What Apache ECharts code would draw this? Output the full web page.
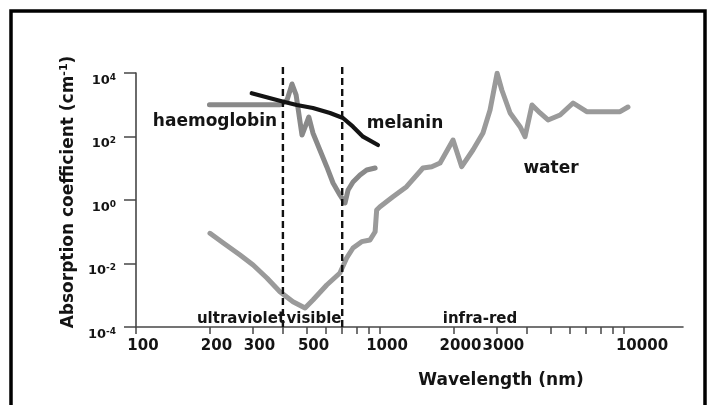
<!DOCTYPE html>
<html><head><meta charset="utf-8">
<script src="https://cdn.jsdelivr.net/npm/echarts@6/dist/echarts.min.js"></script>
<style>html,body{margin:0;padding:0;background:#fff}#c{width:707px;height:405px}</style>
</head><body><div id="c"></div>
<script>
// ---- data (wavelength in nm, absorption coefficient in cm^-1) ----
const xRangeWavelength = [100, 17450];
const yRangeAbsorption = [1e-4, 1e4];
const xTickWavelengths = [100,200,300,400,500,600,700,800,900,1000,2000,3000,4000,5000,6000,7000,8000,9000,10000];
const xLabelWavelengths = [100,200,300,500,1000,2000,3000,10000];
const yTickExponents = [-4,-2,0,2,4];

const haemoglobinWavelength = [200, 390, 416, 436, 453, 479, 511, 531, 567, 605, 642, 685, 719, 740, 775, 828, 882, 955];
const haemoglobinAbsorption = [1000, 1000, 1410, 4500, 2030, 111, 411, 129, 37.6, 11.2, 3.43, 1.44, 0.805, 2.07, 3.69, 6.12, 8.8, 10.2];

const melaninWavelength = [298, 402, 456, 531, 624, 705, 775, 852, 981];
const melaninAbsorption = [2300, 1250, 980, 790, 550, 383, 204, 99, 54];

const waterWavelength = [201,228,267,302,344,389,440,493,531,605,685,730,775,841,910,955,969,1000,1130,1285,1500,1630,1763,1992,2162,2404,2642,2825,3020,3157,3414,3750,3930,4197,4529,4883,5470,6185,7033,8493,9634,10380];
const waterAbsorption = [0.0893,0.0443,0.0185,0.00897,0.00349,0.00129,0.000627,0.000396,0.000708,0.0021,0.00502,0.0149,0.0308,0.0487,0.055,0.1,0.484,0.615,1.27,2.63,10.2,11.2,14.6,77.6,11.2,37.6,129,684,9800,2918,550,204,98.6,982,550,331,475,1135,604,604,604,849];

const boundaryWavelengths = [400, 700];
const boundarySpan = [1e-4, 1.55e4];

// ---- build ----
const L = Math.log10;
const pairs = (xs, ys) => xs.map((x, i) => [L(x), L(ys[i])]);
const FONT = '"DejaVu Sans", sans-serif';
const TXT = '#141414';
const AX = '#474747';

const chart = echarts.init(document.getElementById('c'), null, {renderer: 'canvas'});

const boundarySeries = boundaryWavelengths.map(w => ({
  type: 'line', symbol: 'none', clip: false, silent: true, z: 4,
  data: [[L(w), L(boundarySpan[0])], [L(w), L(boundarySpan[1])]],
  lineStyle: {color: '#111', width: 2.4, type: [7, 4]}
}));

chart.setOption({
  animation: false,
  backgroundColor: '#fff',
  grid: {left: 136, right: 24, top: 73, bottom: 78, containLabel: false},
  xAxis: {
    type: 'value', min: L(xRangeWavelength[0]), max: L(xRangeWavelength[1]),
    splitLine: {show: false},
    axisLine: {onZero: false, lineStyle: {color: AX, width: 1.6}},
    axisTick: {show: true, length: 7, lineStyle: {color: AX, width: 1.5}, customValues: xTickWavelengths.map(L)},
    axisLabel: {
      customValues: xLabelWavelengths.map(L), margin: 12,
      color: TXT, fontFamily: FONT, fontWeight: 'bold', fontSize: 15,
      formatter: v => { const w = Math.round(Math.pow(10, v)); return w === 10000 ? '{f|' + w + '}' : '{n|' + w + '}'; },
      rich: {
        n: {padding: [0, 0, 0, 14], color: TXT, fontFamily: FONT, fontWeight: 'bold', fontSize: 15},
        f: {padding: [0, 0, 0, 36], color: TXT, fontFamily: FONT, fontWeight: 'bold', fontSize: 15}
      }
    },
    name: 'Wavelength (nm)', nameLocation: 'middle', nameGap: 44,
    nameTextStyle: {color: TXT, fontFamily: FONT, fontWeight: 'bold', fontSize: 17, lineHeight: 20, padding: [0, 0, 0, 183]}
  },
  yAxis: {
    type: 'value', min: L(yRangeAbsorption[0]), max: L(yRangeAbsorption[1]), interval: 2,
    splitLine: {show: false},
    axisLine: {onZero: false, lineStyle: {color: AX, width: 1.6}},
    axisTick: {show: true, length: 12, lineStyle: {color: AX, width: 1.5}, customValues: yTickExponents},
    axisLabel: {
      customValues: yTickExponents, margin: 20, verticalAlign: 'top',
      color: TXT, fontFamily: FONT, fontWeight: 'bold', fontSize: 13,
      formatter: v => '{b|10}{s|' + v + '}',
      rich: {
        b: {fontSize: 13, lineHeight: 15, color: TXT, fontFamily: FONT, fontWeight: 'bold'},
        s: {fontSize: 9, lineHeight: 9, verticalAlign: 'top', color: TXT, fontFamily: FONT, fontWeight: 'bold'}
      }
    },
    name: '{t|Absorption coefficient (cm}{s|-1}{t|)}', nameLocation: 'middle', nameGap: 57, nameRotate: 90,
    nameTextStyle: {
      padding: [0, 0, 0, 16],
      rich: {
        t: {fontSize: 17, lineHeight: 20, color: TXT, fontFamily: FONT, fontWeight: 'bold'},
        s: {fontSize: 11, lineHeight: 11, verticalAlign: 'top', color: TXT, fontFamily: FONT, fontWeight: 'bold'}
      }
    }
  },
  series: [
    {name: 'water', type: 'line', symbol: 'none', z: 2, data: pairs(waterWavelength, waterAbsorption),
     lineStyle: {color: '#9a9a9a', width: 5, join: 'round', cap: 'round'}},
    {name: 'haemoglobin', type: 'line', symbol: 'none', z: 3, data: pairs(haemoglobinWavelength, haemoglobinAbsorption),
     lineStyle: {color: '#898989', width: 5, join: 'round', cap: 'round'}},
    ...boundarySeries,
    {name: 'melanin', type: 'line', symbol: 'none', z: 5, data: pairs(melaninWavelength, melaninAbsorption),
     lineStyle: {color: '#141414', width: 4.2, join: 'round', cap: 'round'}}
  ],
  graphic: [
    {type: 'polyline', silent: true, shape: {points: [[11, 405], [11, 11], [705, 11], [705, 405]]},
     style: {stroke: '#000', lineWidth: 3.5, fill: 'none'}},
    ...[
      ['haemoglobin', 215, 122, 17],
      ['melanin', 405, 124, 17],
      ['water', 551, 169, 17],
      ['ultraviolet', 241, 319, 15],
      ['visible', 314, 319, 15],
      ['infra-red', 480, 319, 15]
    ].map(([t, x, y, s]) => ({
      type: 'text', silent: true, x: x, y: y, z: 10,
      style: {text: t, fill: TXT, font: 'bold ' + s + 'px ' + FONT, align: 'center', verticalAlign: 'middle'}
    }))
  ]
});
</script></body></html>
